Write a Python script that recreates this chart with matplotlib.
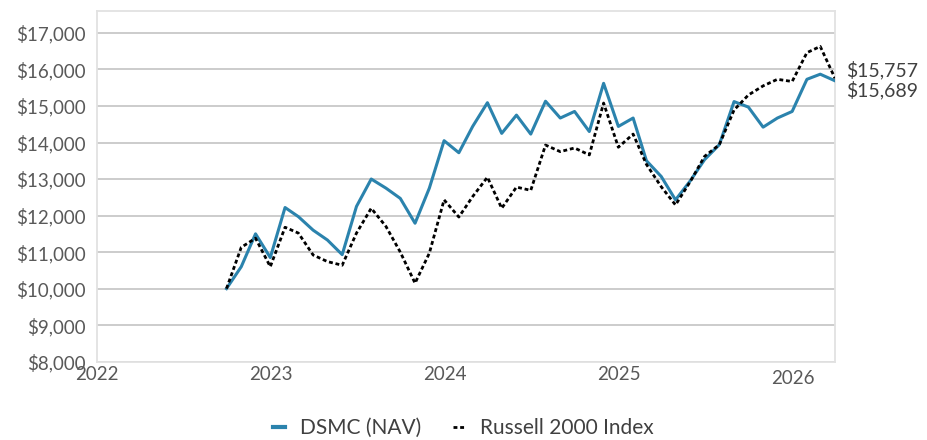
import matplotlib.pyplot as plt
import matplotlib.dates as mdates
from matplotlib.ticker import FuncFormatter
import pandas as pd

plt.rcParams['font.family'] = ['Lato', 'DejaVu Sans']

# month-end values of a $10,000 investment
months = pd.date_range("2022-09-30", periods=43, freq="ME")
dsmc_nav = [10000, 10600, 11500, 10850, 12220, 11970, 11600, 11330, 10930, 12250,
            13000, 12750, 12470, 11790, 12750, 14050, 13720, 14440, 15090, 14250,
            14750, 14230, 15130, 14670, 14850, 14300, 15620, 14440, 14670, 13500,
            13070, 12430, 12950, 13530, 13940, 15120, 14970, 14420, 14670, 14850,
            15730, 15870, 15689]
russell_2000 = [10000, 11130, 11380, 10600, 11680, 11520, 10920, 10740, 10640, 11520,
                12200, 11700, 11000, 10150, 10970, 12430, 11960, 12520, 13050, 12200,
                12780, 12690, 13930, 13750, 13850, 13660, 15080, 13870, 14230, 13400,
                12790, 12290, 12930, 13620, 13940, 14890, 15300, 15550, 15730, 15670,
                16460, 16630, 15757]
year_ticks = [2022, 2023, 2024, 2025, 2026]

fig = plt.figure(figsize=(9.28, 4.4), dpi=100)
ax = fig.add_axes([0.1045, 0.178, 0.7953, 0.797])

blue = "#2b83ad"
ax.plot(months, dsmc_nav, color=blue, lw=2.2, label="DSMC (NAV)", zorder=3)
ax.plot(months, russell_2000, color="black", lw=2.0, linestyle=(0, (1.4, 1.0)),
        label="Russell 2000 Index", zorder=4)

ax.set_ylim(8000, 17600)
ax.set_yticks(range(8000, 17001, 1000))
ax.yaxis.set_major_formatter(FuncFormatter(lambda v, p: f"${v:,.0f}"))
ax.set_xlim(pd.Timestamp("2022-01-01"), pd.Timestamp("2026-03-31"))
ax.set_xticks([pd.Timestamp(f"{y}-01-01") for y in year_ticks])
ax.xaxis.set_major_formatter(mdates.DateFormatter("%Y"))

ax.grid(True, axis='y', color="#c8c8c8", lw=1.3, zorder=0)
for s in ax.spines.values():
    s.set_color("#e2e2e2")
    s.set_linewidth(1.3)
ax.tick_params(length=0, labelcolor="#595959", labelsize=13.5)
ax.tick_params(axis='y', pad=8)
ax.tick_params(axis='x', pad=3)
# last year label sits a little lower in the original
fig.canvas.draw()
ax.get_xticklabels()[-1].set_y(-0.012)

# end value labels
ax.annotate(f"${russell_2000[-1]:,}", xy=(1, 0), xycoords='axes fraction',
            xytext=(846, 440 - 70), textcoords='figure pixels',
            va='center', ha='left', fontsize=14, color="#404040")
ax.annotate(f"${dsmc_nav[-1]:,}", xy=(1, 0), xycoords='axes fraction',
            xytext=(846, 440 - 90), textcoords='figure pixels',
            va='center', ha='left', fontsize=14, color="#404040")

leg = fig.legend(loc='center', bbox_to_anchor=(0.499, 0.027), ncol=2, frameon=False,
                 fontsize=15, handlelength=0.6, handletextpad=0.7, columnspacing=1.5,
                 labelcolor="#404040")
leg.get_lines()[0].set_linewidth(3)

fig.savefig("out.png", dpi=100)
